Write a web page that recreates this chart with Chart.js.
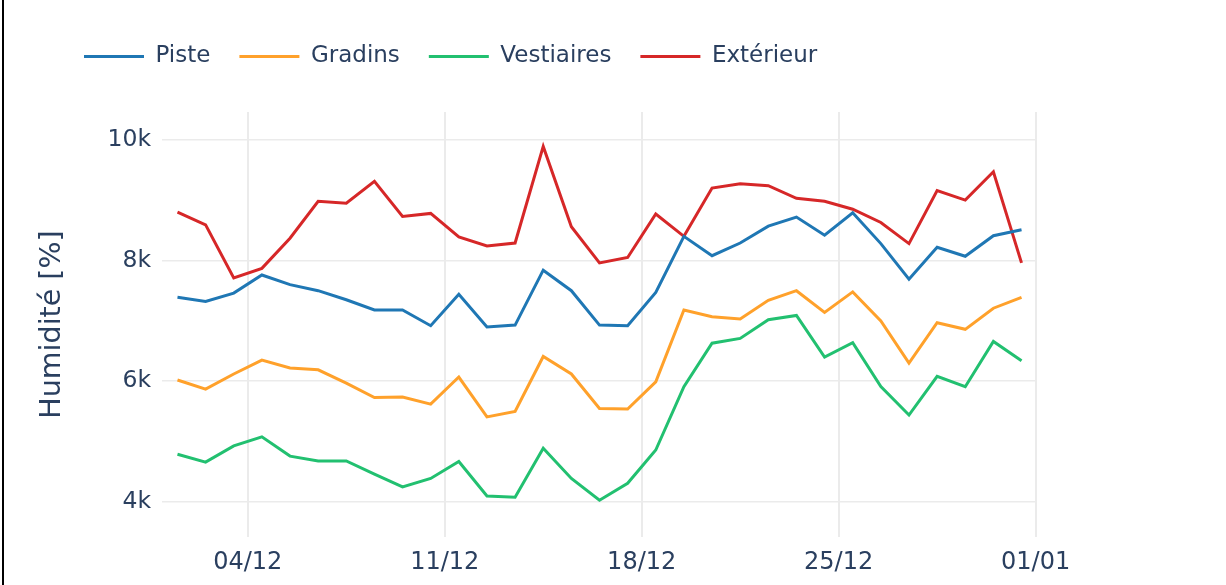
<!doctype html>
<html lang="fr">
  <head>
    <meta charset="utf-8">
    <title>Humidité - décembre</title>
    <style>
      * {
        margin: 0;
        padding: 0;
      }
      body {
        background: #fff;
        width: 1226px;
        height: 585px;
        overflow: hidden;
        position: relative;
      }
      .frame {
        position: absolute;
        left: 2px;
        top: 0;
        width: 2px;
        height: 585px;
        background: #000;
      }
    </style>
  </head>
  <body>
    <canvas id="myChart" width="1226" height="585"></canvas>
    <div class="frame"></div>
    <script src="https://cdn.jsdelivr.net/npm/chart.js/dist/chart.umd.min.js"></script>
    <script>
    // data (one value per day, read at noon)
    const jours = ['01/12', '02/12', '03/12', '04/12', '05/12', '06/12', '07/12', '08/12', '09/12', '10/12',
      '11/12', '12/12', '13/12', '14/12', '15/12', '16/12', '17/12', '18/12', '19/12', '20/12',
      '21/12', '22/12', '23/12', '24/12', '25/12', '26/12', '27/12', '28/12', '29/12', '30/12', '31/12'];
    const piste = [7390, 7320, 7460, 7760, 7600, 7500, 7350, 7180, 7180, 6920, 7440, 6900, 6930, 7840, 7500, 6930,
      6920, 7470, 8400, 8080, 8290, 8570, 8720, 8420, 8790, 8280, 7690, 8220, 8070, 8410, 8510];
    const gradins = [6020, 5870, 6120, 6350, 6220, 6190, 5970, 5730, 5740, 5620, 6070, 5410, 5500, 6410, 6120, 5550,
      5540, 5990, 7180, 7070, 7030, 7340, 7500, 7140, 7480, 7000, 6300, 6970, 6860, 7210, 7390];
    const vestiaires = [4790, 4660, 4930, 5080, 4760, 4680, 4680, 4460, 4250, 4390, 4670, 4100, 4080, 4890, 4390, 4030,
      4310, 4860, 5910, 6630, 6710, 7020, 7090, 6400, 6640, 5910, 5440, 6080, 5910, 6660, 6340];
    const exterieur = [8800, 8590, 7710, 7870, 8370, 8980, 8950, 9310, 8730, 8780, 8390, 8240, 8290, 9890, 8560, 7960,
      8050, 8770, 8400, 9200, 9270, 9240, 9030, 8980, 8850, 8630, 8280, 9160, 9000, 9470, 7960];

    // x ticks: days counted from 01/12 00:00
    const tickDays = [3, 10, 17, 24, 31];
    const tickLabels = ['04/12', '11/12', '18/12', '25/12', '01/01'];
    const yTicks = [4000, 6000, 8000, 10000];

    const textColor = '#2a3f5f';
    const gridColor = '#ebebeb';
    const font = '"DejaVu Sans", Verdana, sans-serif';

    const toPoints = (values) => values.map((v, i) => ({ x: jours.indexOf(jours[i]) + 0.5, y: v }));

    const serie = (label, values, color) => ({
      label,
      data: toPoints(values),
      borderColor: color,
      backgroundColor: color,
      borderWidth: 3,
      pointRadius: 0,
      tension: 0
    });

    const data = {
      datasets: [
        serie('Piste', piste, '#1f77b4'),
        serie('Gradins', gradins, '#ffa12b'),
        serie('Vestiaires', vestiaires, '#22c070'),
        serie('Extérieur', exterieur, '#d62728')
      ]
    };

    // move the legend up/left like the original layout
    const legendShift = {
      id: 'legendShift',
      afterLayout(chart) {
        const lg = chart.legend;
        const h = lg.bottom - lg.top;
        lg.left = 55;
        lg.top = 16;
        lg.bottom = lg.top + h;
      }
    };

    const config = {
      type: 'line',
      data,
      options: {
        responsive: false,
        animation: false,
        devicePixelRatio: 1,
        layout: {
          padding: { top: 50, right: 189, bottom: 0, left: 30 }
        },
        scales: {
          x: {
            type: 'linear',
            min: -0.05,
            max: 31.05,
            afterBuildTicks: (scale) => {
              scale.ticks = tickDays.map(v => ({ value: v }));
            },
            afterFit: (scale) => {
              scale.height = 48;
            },
            ticks: {
              callback: (value) => tickLabels[tickDays.indexOf(value)],
              color: textColor,
              font: { family: font, size: 24 },
              padding: 11,
              maxRotation: 0
            },
            grid: {
              color: gridColor,
              lineWidth: 2,
              drawTicks: false
            },
            border: { display: false }
          },
          y: {
            min: 3420,
            max: 10460,
            afterBuildTicks: (scale) => {
              scale.ticks = yTicks.map(v => ({ value: v }));
            },
            afterFit: (scale) => {
              scale.width = 132;
            },
            ticks: {
              callback: (value) => (value / 1000) + 'k',
              color: textColor,
              font: { family: font, size: 23.5 },
              padding: 11
            },
            grid: {
              color: gridColor,
              lineWidth: 1.5,
              drawTicks: false
            },
            border: { display: false },
            title: {
              display: true,
              text: 'Humidité [%]',
              color: textColor,
              font: { family: font, size: 28.5 },
              padding: { top: 5, bottom: 0 }
            }
          }
        },
        plugins: {
          legend: {
            position: 'top',
            align: 'start',
            labels: {
              boxWidth: 60,
              boxHeight: 3,
              padding: 29,
              color: textColor,
              font: { family: font, size: 23 },
              generateLabels: (chart) => Chart.defaults.plugins.legend.labels.generateLabels(chart)
                .map(item => Object.assign(item, { lineWidth: 0 }))
            }
          },
          tooltip: { enabled: false }
        }
      },
      plugins: [legendShift]
    };

    const myChart = new Chart(document.getElementById('myChart'), config);
    </script>
  </body>
</html>
